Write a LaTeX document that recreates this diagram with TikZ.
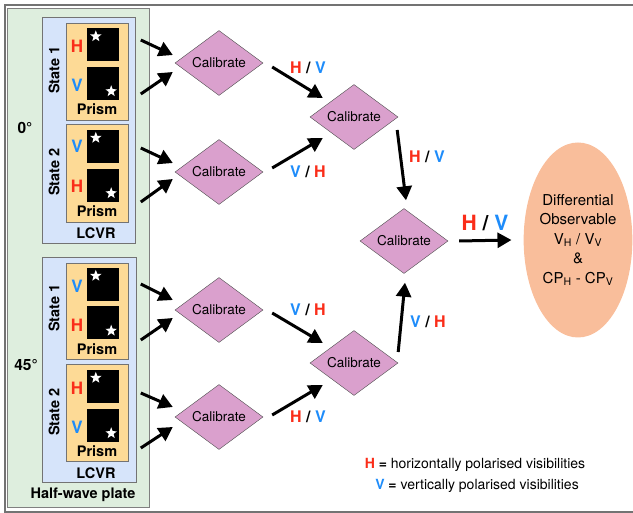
\documentclass[tikz,border=0pt]{standalone}
\usepackage{fontspec}
\setmainfont{TeX Gyre Heros}
\usetikzlibrary{arrows.meta,shapes.geometric,calc}

\definecolor{hred}{RGB}{250,45,25}
\definecolor{vblue}{RGB}{30,140,250}
\definecolor{plategreen}{RGB}{222,238,222}
\definecolor{lcvrblue}{RGB}{214,228,250}
\definecolor{prismorange}{RGB}{253,218,150}
\definecolor{calpink}{RGB}{218,160,205}
\definecolor{obsorange}{RGB}{249,190,155}
\newcommand{\Hc}{\textcolor{hred}{H}}
\newcommand{\Vc}{\textcolor{vblue}{V}}

\begin{document}
\begin{tikzpicture}[
  x=1pt, y=-1pt,
  plate/.style={draw=black!50, line width=0.8pt, fill=plategreen},
  lcvr/.style={draw=black!55, line width=0.7pt, fill=lcvrblue},
  prism/.style={draw=black!55, line width=0.7pt, fill=prismorange},
  sq/.style={fill=black, minimum width=32pt, minimum height=33pt, inner sep=0pt},
  starw/.style={star, star points=5, star point ratio=2.4, fill=white, minimum size=12pt, inner sep=0pt},
  cal/.style={diamond, draw=black!70, fill=calpink, minimum width=88pt, minimum height=65pt,
              inner sep=0pt, font=\fontsize{13.5}{16}\selectfont},
  obs/.style={ellipse, fill=obsorange, minimum width=108pt, minimum height=195pt, inner sep=0pt,
              align=center, font=\fontsize{15}{19.5}\selectfont},
  arr/.style={line width=3pt, -{Triangle[length=14pt,width=15pt]}},
  lab/.style={font=\bfseries\fontsize{16}{19}\selectfont},
  pol/.style={font=\bfseries\fontsize{17}{20}\selectfont},
  bold/.style={font=\bfseries\fontsize{14.5}{17}\selectfont},
  key/.style={font=\fontsize{14}{17}\selectfont}
]
\useasboundingbox (0,0) rectangle (633,513);
\draw[black!55, line width=1.2pt] (633,5) -- (5,5) -- (5,512) -- (633,512);

% half-wave plate and the two LCVR positions
\draw[plate] (7,8) rectangle (149,507);
\draw[lcvr] (42,17) rectangle (135,243);
\draw[lcvr] (42,257) rectangle (136,482);
\draw[prism] (66,23) rectangle (128,120);
\draw[prism] (66,124) rectangle (128,222);
\draw[prism] (66,263) rectangle (128,359);
\draw[prism] (66,364) rectangle (128,461);

\node[bold, anchor=base] (hwp) at (83,499) {Half-wave plate};
\node[bold, font=\bfseries\fontsize{15.5}{18}\selectfont] (ang0) at (25,128) {0°};
\node[bold, font=\bfseries\fontsize{15.5}{18}\selectfont] (ang45) at (26,365) {45°};
\node[bold] (lcvr0) at (96,233) {LCVR};
\node[bold] (lcvr45) at (96,473) {LCVR};
\node[bold, rotate=90] (st0a) at (54,70) {State 1};
\node[bold, rotate=90] (st0b) at (54,172) {State 2};
\node[bold, rotate=90] (st45a) at (54,308) {State 1};
\node[bold, rotate=90] (st45b) at (54,412) {State 2};
\node[bold] (pr1) at (97,109) {Prism};
\node[bold] (pr2) at (97,211) {Prism};
\node[bold] (pr3) at (97,349) {Prism};
\node[bold] (pr4) at (97,451) {Prism};

% spots on the detector
\node[sq] (s1) at (103,45) {};
\node[sq] (s2) at (103,83.5) {};
\node[sq] (s3) at (103,146.5) {};
\node[sq] (s4) at (103,185.5) {};
\node[sq] (s5) at (103,284.5) {};
\node[sq] (s6) at (103,323) {};
\node[sq] (s7) at (103,386.5) {};
\node[sq] (s8) at (103,425.5) {};
\node[starw] (k1) at ($(s1.north west)+(9,8)$) {};
\node[starw] (k2) at ($(s2.south east)+(-8,-9)$) {};
\node[starw] (k3) at ($(s3.north west)+(9,8)$) {};
\node[starw] (k4) at ($(s4.south east)+(-8,-9)$) {};
\node[starw] (k5) at ($(s5.north west)+(9,8)$) {};
\node[starw] (k6) at ($(s6.south east)+(-8,-9)$) {};
\node[starw] (k7) at ($(s7.north west)+(9,8)$) {};
\node[starw] (k8) at ($(s8.south east)+(-8,-9)$) {};
\node[pol] (l1) at (77,46) {\Hc};
\node[pol] (l2) at (77,85) {\Vc};
\node[pol] (l3) at (77,146) {\Vc};
\node[pol] (l4) at (77,186) {\Hc};
\node[pol] (l5) at (77,286) {\Vc};
\node[pol] (l6) at (77,325) {\Hc};
\node[pol] (l7) at (77,388) {\Hc};
\node[pol] (l8) at (77,427) {\Vc};

% calibration tree
\node[cal] (c1) at (219,63) {Calibrate};
\node[cal] (c2) at (219,172) {Calibrate};
\node[cal] (c3) at (219,310) {Calibrate};
\node[cal] (c4) at (219,417) {Calibrate};
\node[cal] (d1) at (354,117) {Calibrate};
\node[cal] (d2) at (354,363) {Calibrate};
\node[cal] (e) at (404,241) {Calibrate};
\node[obs] (obs) at (578,240) {Differential\\Observable\\V\textsubscript{H} / V\textsubscript{V}\\\&\\CP\textsubscript{H} - CP\textsubscript{V}};

\draw[arr] ($(c1.west)+(-34,-23)$) -- ($(c1.west)+(-2,-8)$);
\draw[arr] ($(c1.west)+(-34,31)$) -- ($(c1.west)+(-2,9)$);
\draw[arr] ($(c2.west)+(-34,-24)$) -- ($(c2.west)+(-2,-9)$);
\draw[arr] ($(c2.west)+(-34,30)$) -- ($(c2.west)+(-2,7)$);
\draw[arr] ($(c3.west)+(-34,-26)$) -- ($(c3.west)+(-2,-10)$);
\draw[arr] ($(c3.west)+(-34,30)$) -- ($(c3.west)+(-2,8)$);
\draw[arr] ($(c4.west)+(-34,-24)$) -- ($(c4.west)+(-2,-10)$);
\draw[arr] ($(c4.west)+(-34,31)$) -- ($(c4.west)+(-2,10)$);

\draw[arr] ($(c1.east)+(9,4)$) -- ($(d1.west)+(13,-19)$);
\draw[arr] ($(c2.east)+(9,-4)$) -- ($(d1.west)+(13,21)$);
\draw[arr] ($(c3.east)+(9,3)$) -- ($(d2.west)+(13,-20)$);
\draw[arr] ($(c4.east)+(9,-2)$) -- ($(d2.west)+(13,22)$);
\draw[arr] ($(d1.east)+(-1,13)$) -- ($(e.north)+(2,-8)$);
\draw[arr] ($(d2.east)+(0,-11)$) -- ($(e.south)+(1,9)$);
\draw[arr] ($(e.east)+(11,0)$) -- ($(obs.west)+(-12,0)$);

\node[lab] (hv1) at (308,68) {\Hc\ / \Vc};
\node[lab] (vh1) at (308,172) {\Vc\ / \Hc};
\node[lab] (vh2) at (308,310) {\Vc\ / \Hc};
\node[lab] (hv2) at (308,417) {\Hc\ / \Vc};
\node[lab] (hv3) at (427,157) {\Hc\ / \Vc};
\node[lab] (vh3) at (428,322) {\Vc\ / \Hc};
\node[lab, font=\bfseries\fontsize{21}{25}\selectfont] (hv4) at (485,223) {\Hc\ / \Vc};

% legend
\node[key] (keyh) at (475,465) {\textbf{\Hc\ =} horizontally polarised visibilities};
\node[key] (keyv) at (477,486) {\textbf{\Vc\ =} vertically polarised visibilities};
\end{tikzpicture}
\end{document}
